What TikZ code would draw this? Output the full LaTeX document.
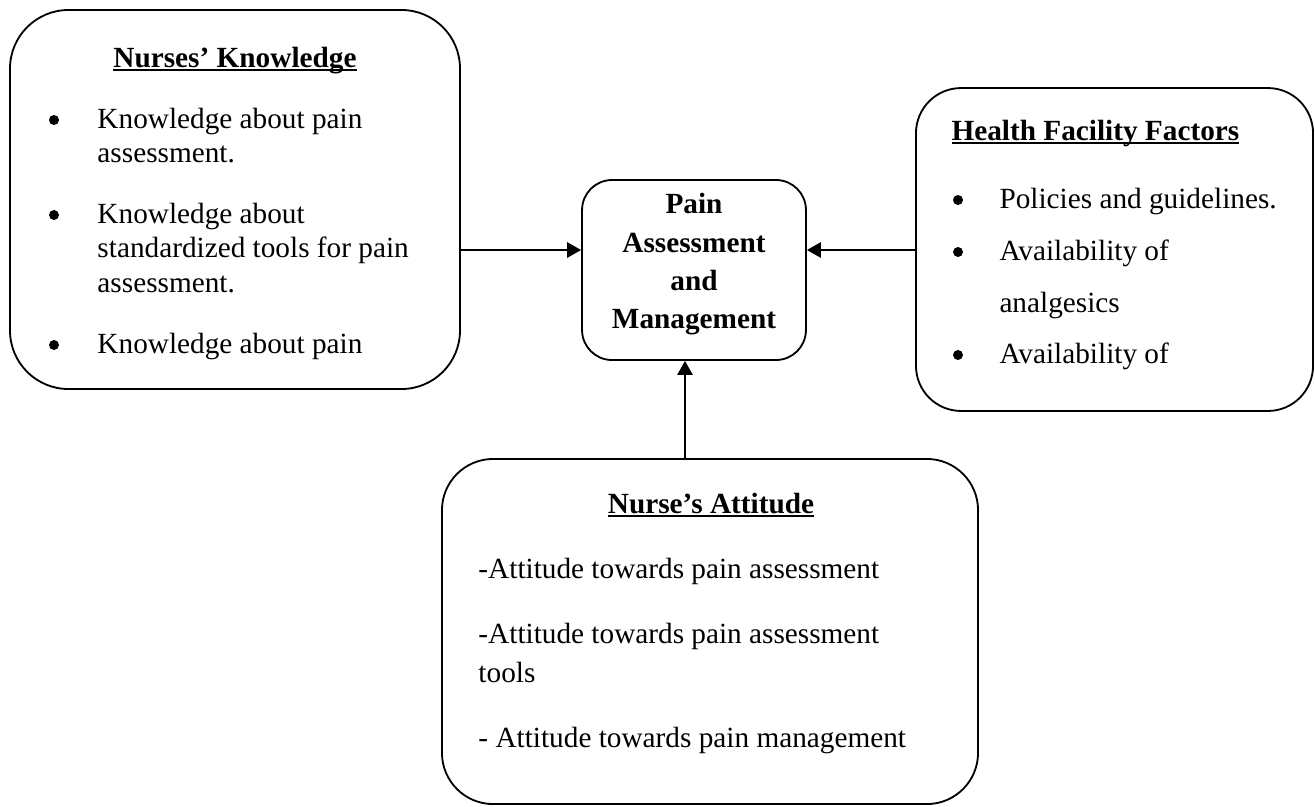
\documentclass[tikz,border=0pt]{standalone}
\usepackage{fontspec}
\setmainfont{Liberation Serif}
\usetikzlibrary{arrows.meta}
\newcommand{\ulhead}[1]{\setbox0\hbox{\textbf{#1}}\rlap{\rule[-1.6pt]{\wd0}{0.8pt}}\box0}
\tikzset{
  Box/.style={draw, line width=0.75pt, inner sep=0pt},
  Txt/.style={anchor=base west, inner sep=0pt, font=\fontsize{12}{14}\selectfont},
  Head/.style={anchor=base, inner sep=0pt, font=\fontsize{12}{14}\selectfont\bfseries},
  Dot/.style={circle, fill, minimum size=4.1pt, inner sep=0pt},
  Arr/.style={-{Triangle[length=5.7pt,width=6.2pt]}, line width=0.8pt}
}
\begin{document}
\begin{tikzpicture}[x=0.41pt, y=-0.41pt]
\useasboundingbox (0,0) rectangle (1315,806);
% the four boxes
\node (know) at (235,199.5) [Box, rounded corners=24pt, minimum width=184.5pt, minimum height=155.4pt] {};
\node (pam) at (694,270) [Box, rounded corners=12.3pt, minimum width=91.8pt, minimum height=73.8pt] {};
\node (health) at (1114.5,249.5) [Box, rounded corners=18.5pt, minimum width=162.8pt, minimum height=132.4pt] {};
\node (attit) at (710,631.5) [Box, rounded corners=21pt, minimum width=219.8pt, minimum height=141.5pt] {};
% nurses' knowledge
\node (knowhead) at (235,67) [Head] {\ulhead{Nurses’ Knowledge}};
\node (kdot1) at (54,120) [Dot] {};
\node (kdot2) at (54,215) [Dot] {};
\node (kdot3) at (54,345) [Dot] {};
\node (k1) at (97,128) [Txt] {Knowledge about pain};
\node (k2) at (97,162) [Txt] {assessment.};
\node (k3) at (97,223) [Txt] {Knowledge about};
\node (k4) at (97,257) [Txt] {standardized tools for pain};
\node (k5) at (97,292) [Txt] {assessment.};
\node (k6) at (97,353) [Txt] {Knowledge about pain};
% centre
\node (pam1) at (694,213) [Head] {Pain};
\node (pam2) at (694,252) [Head] {Assessment};
\node (pam3) at (694,290) [Head] {and};
\node (pam4) at (694,328) [Head] {Management};
% health facility
\node (healthhead) at (951,140) [Txt] {\ulhead{Health Facility Factors}};
\node (hdot1) at (958,200) [Dot] {};
\node (hdot2) at (958,252) [Dot] {};
\node (hdot3) at (958,355) [Dot] {};
\node (h1) at (999,208) [Txt] {Policies and guidelines.};
\node (h2) at (999,260) [Txt] {Availability of};
\node (h3) at (999,312) [Txt] {analgesics};
\node (h4) at (999,363) [Txt] {Availability of};
% nurse's attitude
\node (attithead) at (711,513) [Head] {\ulhead{Nurse’s Attitude}};
\node (a1) at (478,578) [Txt] {-Attitude towards pain assessment};
\node (a2) at (478,643) [Txt] {-Attitude towards pain assessment};
\node (a3) at (478,682) [Txt] {tools};
\node (a4) at (478,747) [Txt] {- Attitude towards pain management};
% arrows
\coordinate (hub) at (685,250);
\draw [Arr] (know.east |- hub) -- (pam.west |- hub);
\draw [Arr] (health.west |- hub) -- (pam.east |- hub);
\draw [Arr] (attit.north -| hub) -- (pam.south -| hub);
\end{tikzpicture}
\end{document}
